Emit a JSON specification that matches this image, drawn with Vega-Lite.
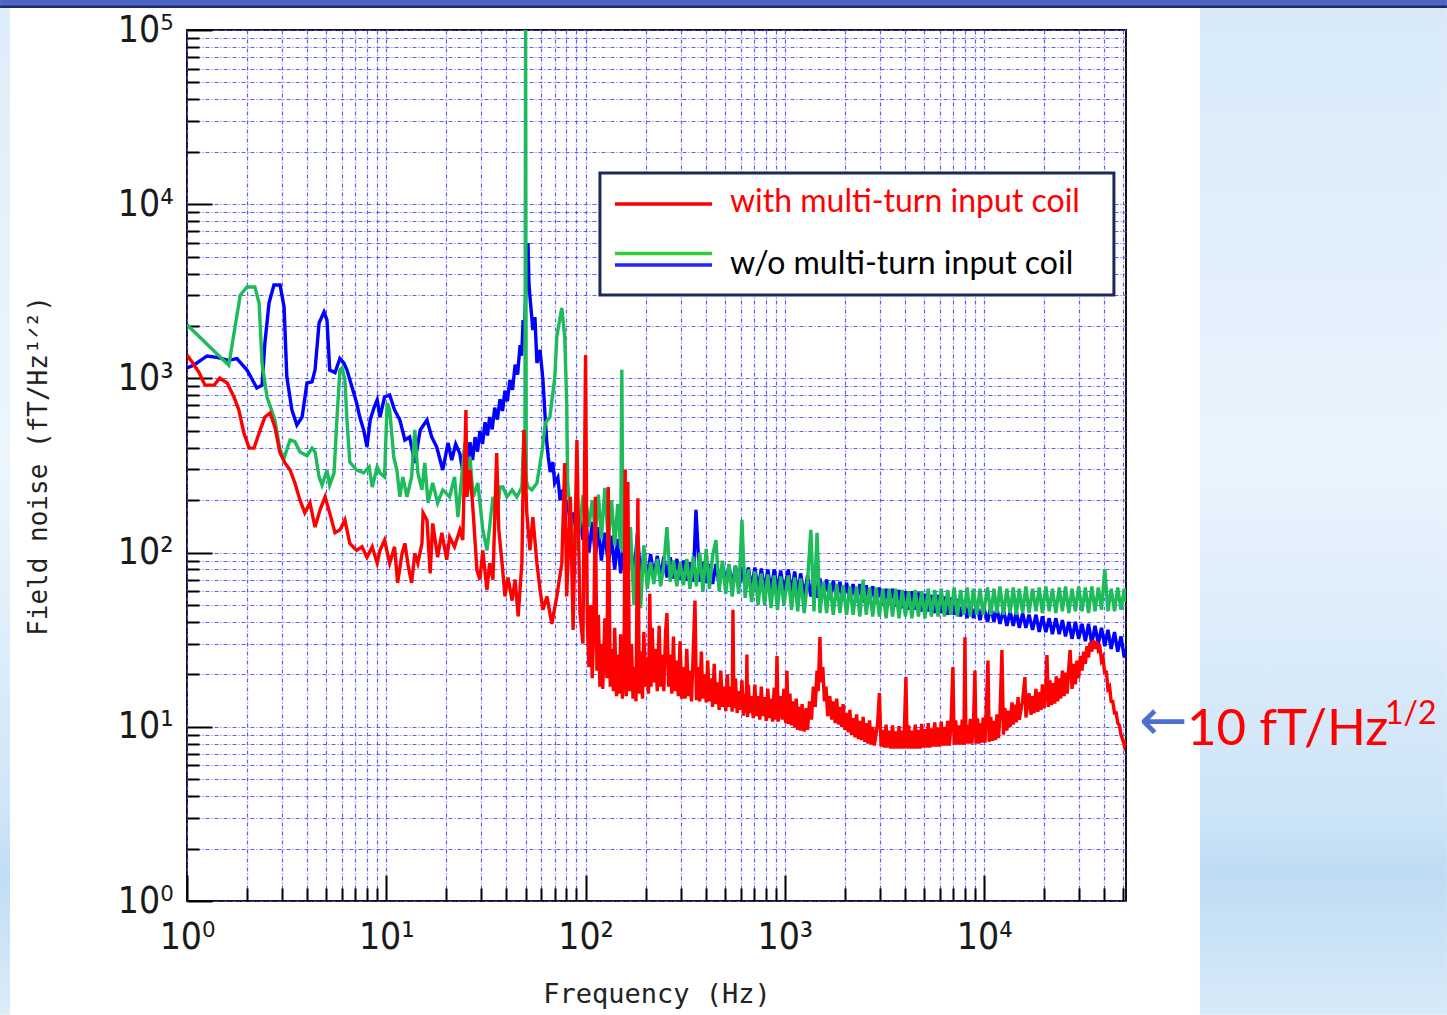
{
"$schema":"https://vega.github.io/schema/vega-lite/v6.json",
"width":939,"height":871,
"autosize":{"type":"none"},
"padding":{"left":187,"top":30,"right":321,"bottom":114},
"background":"#ffffff",
"config":{"view":{"stroke":"#151515","strokeWidth":2}},
"datasets":{
"blue":[{"f":1,"n":1150},{"f":1.08,"n":1190},{"f":1.26,"n":1345},{"f":1.41,"n":1320},{"f":1.62,"n":1270},{"f":1.78,"n":1300},{"f":2.0,"n":1117},{"f":2.24,"n":881},{"f":2.38,"n":915},{"f":2.46,"n":1597},{"f":2.58,"n":2710},{"f":2.73,"n":3436},{"f":2.93,"n":3436},{"f":3.07,"n":2570},{"f":3.17,"n":1018},{"f":3.36,"n":659},{"f":3.56,"n":540},{"f":3.78,"n":600},{"f":4.0,"n":941},{"f":4.24,"n":955},{"f":4.39,"n":1117},{"f":4.6,"n":2080},{"f":4.87,"n":2404},{"f":5.04,"n":2163},{"f":5.2,"n":1117},{"f":5.53,"n":1080},{"f":5.85,"n":1300},{"f":6.12,"n":1225},{"f":6.35,"n":1117},{"f":6.73,"n":893},{"f":7.1,"n":722},{"f":7.36,"n":600},{"f":7.7,"n":506},{"f":8.0,"n":404},{"f":8.3,"n":577},{"f":8.7,"n":685},{"f":9.0,"n":752},{"f":9.3,"n":600},{"f":9.8,"n":782},{"f":10.4,"n":803},{"f":11.0,"n":659},{"f":11.7,"n":577},{"f":12.4,"n":443},{"f":13.1,"n":461},{"f":13.9,"n":327},{"f":14.8,"n":506},{"f":16.0,"n":577},{"f":16.9,"n":461},{"f":17.9,"n":404},{"f":19.2,"n":298},{"f":20.4,"n":426},{"f":21.3,"n":340},{"f":22.3,"n":420},{"f":23.4,"n":370},{"f":24.1,"n":300},{"f":24.8,"n":400},{"f":25.5,"n":330},{"f":26.3,"n":430},{"f":27.1,"n":340},{"f":27.9,"n":460},{"f":28.7,"n":380},{"f":29.5,"n":500},{"f":30.4,"n":420},{"f":31.3,"n":560},{"f":32.2,"n":470},{"f":33.0,"n":600},{"f":34.0,"n":510},{"f":35.0,"n":680},{"f":36.1,"n":580},{"f":37.2,"n":760},{"f":38.3,"n":650},{"f":39.4,"n":850},{"f":40.5,"n":740},{"f":41.7,"n":980},{"f":43.0,"n":860},{"f":44.3,"n":1200},{"f":45.6,"n":1050},{"f":46.9,"n":1550},{"f":47.8,"n":1350},{"f":48.6,"n":2163},{"f":49.4,"n":2000},{"f":50.1,"n":3090},{"f":51.0,"n":4200},{"f":51.4,"n":5990},{"f":52.0,"n":3500},{"f":52.6,"n":2933},{"f":54.4,"n":1896},{"f":55.7,"n":2250},{"f":57.0,"n":1225},{"f":59.1,"n":1456},{"f":61.1,"n":979},{"f":62.8,"n":577},{"f":64,"n":420},{"f":65.0,"n":354},{"f":66.5,"n":290},{"f":68.5,"n":330},{"f":70,"n":250},{"f":72.6,"n":270},{"f":74.5,"n":200},{"f":76.9,"n":230},{"f":79,"n":170},{"f":81.3,"n":200},{"f":84,"n":140},{"f":86.6,"n":170},{"f":90,"n":130},{"f":93.7,"n":160},{"f":97,"n":118},
{"f":100,"n":155},{"f":104,"n":100},{"f":108,"n":150},{"f":112,"n":95},{"f":116,"n":140},{"f":120,"n":90},{"f":125,"n":130},{"f":130,"n":85},{"f":135,"n":125},{"f":140,"n":80},{"f":145,"n":120},{"f":150,"n":76},{"f":156,"n":115},{"f":162,"n":75},{"f":168,"n":112},{"f":175,"n":73},{"f":182,"n":130},{"f":189,"n":72},{"f":196,"n":100},{"f":204,"n":72},{"f":212,"n":98},{"f":220,"n":73},{"f":229,"n":96},{"f":238,"n":72},{"f":247,"n":95},{"f":256,"n":72},{"f":266,"n":94},{"f":276,"n":71},{"f":287,"n":92},{"f":298,"n":70},{"f":310,"n":90},{"f":322,"n":69},{"f":334,"n":88},{"f":347,"n":68},{"f":358,"n":176},{"f":374,"n":68},{"f":388,"n":88},{"f":403,"n":67},{"f":418,"n":86},{"f":434,"n":66},{"f":451,"n":86},{"f":468,"n":65},{"f":486,"n":85},{"f":505,"n":65},{"f":524,"n":84},{"f":544,"n":64},{"f":565,"n":84},{"f":587,"n":63},{"f":609,"n":83},{"f":632,"n":63},{"f":656,"n":82},{"f":681,"n":62},{"f":707,"n":82},{"f":734,"n":61},{"f":762,"n":81},{"f":791,"n":61},{"f":821,"n":80},{"f":852,"n":60},{"f":884,"n":80},{"f":918,"n":60},{"f":953,"n":79},{"f":989,"n":59},
{"f":1040,"n":80},{"f":1080,"n":58},{"f":1120,"n":78},{"f":1160,"n":57},{"f":1200,"n":76},{"f":1250,"n":56},{"f":1300,"n":74},{"f":1350,"n":56},{"f":1400,"n":72},{"f":1450,"n":55},{"f":1500,"n":71},{"f":1560,"n":55},{"f":1620,"n":70},{"f":1680,"n":54},{"f":1750,"n":69},{"f":1820,"n":54},{"f":1890,"n":68},{"f":1960,"n":53},{"f":2040,"n":67},{"f":2120,"n":53},{"f":2200,"n":66},{"f":2290,"n":52},{"f":2380,"n":66},{"f":2470,"n":52},{"f":2560,"n":65},{"f":2660,"n":51},{"f":2760,"n":64},{"f":2870,"n":51},{"f":2980,"n":63},{"f":3100,"n":50},{"f":3220,"n":62},{"f":3340,"n":50},{"f":3470,"n":62},{"f":3600,"n":49},{"f":3740,"n":61},{"f":3880,"n":48},{"f":4030,"n":60},{"f":4180,"n":47},{"f":4340,"n":60},{"f":4510,"n":47},{"f":4680,"n":59},{"f":4860,"n":46},{"f":5050,"n":58},{"f":5240,"n":46},{"f":5440,"n":57},{"f":5650,"n":45},{"f":5870,"n":57},{"f":6090,"n":45},{"f":6320,"n":56},{"f":6560,"n":44},{"f":6810,"n":55},{"f":7070,"n":44},{"f":7340,"n":54},{"f":7620,"n":43},{"f":7910,"n":53},{"f":8210,"n":42},{"f":8520,"n":52},{"f":8840,"n":42},{"f":9180,"n":51},{"f":9530,"n":41},{"f":9890,"n":50},
{"f":10400,"n":40},{"f":10800,"n":49},{"f":11200,"n":40},{"f":11600,"n":48},{"f":12000,"n":39},{"f":12500,"n":47},{"f":13000,"n":38},{"f":13500,"n":46},{"f":14000,"n":38},{"f":14500,"n":46},{"f":15000,"n":37},{"f":15600,"n":45},{"f":16200,"n":37},{"f":16800,"n":44},{"f":17500,"n":36},{"f":18200,"n":44},{"f":18900,"n":35},{"f":19600,"n":43},{"f":20400,"n":35},{"f":21200,"n":42},{"f":22000,"n":34},{"f":22900,"n":42},{"f":23800,"n":34},{"f":24700,"n":41},{"f":25600,"n":33},{"f":26600,"n":40},{"f":27600,"n":32},{"f":28700,"n":40},{"f":29800,"n":32},{"f":31000,"n":39},{"f":32200,"n":31},{"f":33400,"n":39},{"f":34700,"n":30},{"f":36000,"n":38},{"f":37400,"n":30},{"f":38800,"n":37},{"f":40300,"n":29},{"f":41800,"n":36},{"f":43400,"n":28},{"f":45100,"n":35},{"f":46800,"n":27},{"f":48600,"n":33},{"f":50500,"n":25},{"f":51500,"n":28}],
"green":[{"f":1,"n":2030},{"f":1.62,"n":1190},{"f":1.85,"n":3000},{"f":2.0,"n":3350},{"f":2.19,"n":3350},{"f":2.3,"n":2710},{"f":2.38,"n":1230},{"f":2.52,"n":780},{"f":2.76,"n":577},{"f":2.93,"n":388},{"f":3.07,"n":349},{"f":3.29,"n":443},{"f":3.48,"n":433},{"f":3.69,"n":378},{"f":4.0,"n":360},{"f":4.24,"n":398},{"f":4.39,"n":378},{"f":4.6,"n":272},{"f":4.76,"n":244},{"f":5.04,"n":298},{"f":5.2,"n":244},{"f":5.47,"n":287},{"f":5.66,"n":600},{"f":5.85,"n":1117},{"f":6.0,"n":1150},{"f":6.2,"n":979},{"f":6.35,"n":577},{"f":6.56,"n":331},{"f":7.1,"n":298},{"f":7.7,"n":287},{"f":8.2,"n":310},{"f":8.5,"n":238},{"f":9.0,"n":310},{"f":9.3,"n":287},{"f":9.8,"n":272},{"f":10.1,"n":722},{"f":10.4,"n":659},{"f":10.9,"n":354},{"f":11.3,"n":298},{"f":11.7,"n":209},{"f":12.1,"n":272},{"f":12.7,"n":209},{"f":13.4,"n":272},{"f":13.9,"n":506},{"f":14.4,"n":287},{"f":15.1,"n":229},{"f":15.6,"n":327},{"f":16.2,"n":193},{"f":17.1,"n":251},{"f":18.1,"n":193},{"f":19.2,"n":229},{"f":20.8,"n":209},{"f":22.0,"n":272},{"f":22.9,"n":160},{"f":24.0,"n":287},{"f":24.8,"n":426},{"f":25.4,"n":229},{"f":26.3,"n":354},{"f":27.3,"n":209},{"f":28.8,"n":251},{"f":30.5,"n":135},{"f":32.0,"n":103},{"f":33.0,"n":140},{"f":34.3,"n":209},{"f":35.8,"n":154},{"f":37.2,"n":238},{"f":38.5,"n":238},{"f":40.3,"n":209},{"f":42.8,"n":229},{"f":45.2,"n":209},{"f":47.9,"n":238},{"f":49.1,"n":506},{"f":49.6,"n":300},{"f":50.0,"n":100000},{"f":50.4,"n":260},{"f":51.4,"n":238},{"f":53.8,"n":229},{"f":57.0,"n":251},{"f":60.6,"n":388},{"f":62.8,"n":555},{"f":66.2,"n":600},{"f":70.1,"n":1018},{"f":71.7,"n":1728},{"f":74.1,"n":2163},{"f":76.0,"n":2537},{"f":78.6,"n":1728},{"f":80.4,"n":722},{"f":81.3,"n":251},{"f":85.3,"n":135},{"f":90.5,"n":103},{"f":93.7,"n":147},{"f":96.9,"n":209},
{"f":100,"n":205},{"f":104,"n":140},{"f":108,"n":200},{"f":112,"n":130},{"f":116,"n":215},{"f":120,"n":120},{"f":125,"n":235},{"f":130,"n":115},{"f":135,"n":200},{"f":140,"n":110},{"f":145,"n":190},{"f":150,"n":105},{"f":152,"n":1120},{"f":154,"n":100},{"f":156,"n":170},{"f":162,"n":60},{"f":168,"n":140},{"f":175,"n":50},{"f":182,"n":125},{"f":189,"n":48},{"f":196,"n":110},{"f":204,"n":62},{"f":212,"n":88},{"f":220,"n":66},{"f":229,"n":92},{"f":238,"n":64},{"f":247,"n":85},{"f":256,"n":140},{"f":266,"n":68},{"f":276,"n":90},{"f":287,"n":64},{"f":298,"n":88},{"f":310,"n":65},{"f":322,"n":92},{"f":334,"n":62},{"f":347,"n":95},{"f":360,"n":64},{"f":374,"n":100},{"f":388,"n":60},{"f":403,"n":105},{"f":418,"n":62},{"f":434,"n":96},{"f":451,"n":118},{"f":468,"n":60},{"f":486,"n":90},{"f":505,"n":58},{"f":524,"n":86},{"f":544,"n":56},{"f":565,"n":84},{"f":587,"n":58},{"f":609,"n":154},{"f":632,"n":55},{"f":656,"n":80},{"f":681,"n":52},{"f":707,"n":78},{"f":734,"n":50},{"f":762,"n":76},{"f":791,"n":50},{"f":821,"n":75},{"f":852,"n":48},{"f":884,"n":74},{"f":918,"n":47},{"f":953,"n":73},{"f":989,"n":50},
{"f":1040,"n":74},{"f":1080,"n":47},{"f":1120,"n":72},{"f":1160,"n":46},{"f":1200,"n":71},{"f":1250,"n":45},{"f":1300,"n":69},{"f":1350,"n":135},{"f":1400,"n":46},{"f":1450,"n":130},{"f":1500,"n":45},{"f":1560,"n":68},{"f":1620,"n":45},{"f":1680,"n":67},{"f":1750,"n":44},{"f":1820,"n":66},{"f":1890,"n":45},{"f":1960,"n":65},{"f":2040,"n":44},{"f":2120,"n":64},{"f":2200,"n":44},{"f":2290,"n":64},{"f":2380,"n":43},{"f":2470,"n":70},{"f":2560,"n":44},{"f":2660,"n":63},{"f":2760,"n":43},{"f":2870,"n":63},{"f":2980,"n":43},{"f":3100,"n":62},{"f":3220,"n":42},{"f":3340,"n":62},{"f":3470,"n":43},{"f":3600,"n":62},{"f":3740,"n":42},{"f":3880,"n":61},{"f":4030,"n":43},{"f":4180,"n":60},{"f":4340,"n":42},{"f":4510,"n":61},{"f":4680,"n":43},{"f":4860,"n":60},{"f":5050,"n":42},{"f":5240,"n":62},{"f":5440,"n":43},{"f":5650,"n":61},{"f":5870,"n":43},{"f":6090,"n":62},{"f":6320,"n":43},{"f":6560,"n":61},{"f":6810,"n":44},{"f":7070,"n":63},{"f":7340,"n":43},{"f":7620,"n":61},{"f":7910,"n":44},{"f":8210,"n":63},{"f":8520,"n":43},{"f":8840,"n":62},{"f":9180,"n":44},{"f":9530,"n":62},{"f":9890,"n":44},
{"f":10400,"n":63},{"f":10800,"n":44},{"f":11200,"n":62},{"f":11600,"n":45},{"f":12000,"n":64},{"f":12500,"n":44},{"f":13000,"n":62},{"f":13500,"n":45},{"f":14000,"n":63},{"f":14500,"n":44},{"f":15000,"n":62},{"f":15600,"n":45},{"f":16200,"n":64},{"f":16800,"n":45},{"f":17500,"n":62},{"f":18200,"n":46},{"f":18900,"n":63},{"f":19600,"n":45},{"f":20400,"n":64},{"f":21200,"n":46},{"f":22000,"n":62},{"f":22900,"n":45},{"f":23800,"n":63},{"f":24700,"n":46},{"f":25600,"n":64},{"f":26600,"n":45},{"f":27600,"n":62},{"f":28700,"n":46},{"f":29800,"n":64},{"f":31000,"n":46},{"f":32200,"n":63},{"f":33400,"n":45},{"f":34700,"n":64},{"f":36000,"n":46},{"f":37400,"n":63},{"f":38800,"n":47},{"f":40300,"n":80},{"f":41800,"n":46},{"f":43400,"n":62},{"f":45100,"n":46},{"f":46800,"n":63},{"f":48600,"n":47},{"f":50500,"n":62},{"f":51500,"n":52}],
"red":[{"f":1,"n":1362},{"f":1.06,"n":1243},{"f":1.15,"n":1080},{"f":1.23,"n":915},{"f":1.37,"n":915},{"f":1.46,"n":1005},{"f":1.59,"n":941},{"f":1.72,"n":782},{"f":1.82,"n":659},{"f":1.93,"n":486},{"f":2.05,"n":398},{"f":2.17,"n":398},{"f":2.3,"n":486},{"f":2.46,"n":600},{"f":2.61,"n":633},{"f":2.76,"n":526},{"f":2.93,"n":373},{"f":3.1,"n":327},{"f":3.29,"n":298},{"f":3.48,"n":251},{"f":3.69,"n":200},{"f":3.9,"n":169},{"f":4.14,"n":193},{"f":4.39,"n":140},{"f":4.65,"n":176},{"f":4.93,"n":209},{"f":5.2,"n":169},{"f":5.53,"n":130},{"f":5.85,"n":135},{"f":6.2,"n":154},{"f":6.56,"n":113},{"f":7.1,"n":103},{"f":7.55,"n":108},{"f":8.0,"n":94},{"f":8.5,"n":108},{"f":9.0,"n":87},{"f":9.3,"n":103},{"f":9.8,"n":118},{"f":10.4,"n":87},{"f":11.0,"n":108},{"f":11.4,"n":67},{"f":12.0,"n":99},{"f":12.4,"n":113},{"f":12.9,"n":83},{"f":13.4,"n":67},{"f":13.9,"n":99},{"f":14.4,"n":87},{"f":15.1,"n":113},{"f":15.3,"n":169},{"f":16.0,"n":154},{"f":16.6,"n":76},{"f":17.1,"n":147},{"f":18.1,"n":94},{"f":19.0,"n":130},{"f":20.1,"n":91},{"f":20.8,"n":123},{"f":22.0,"n":108},{"f":23.4,"n":135},{"f":24.2,"n":118},{"f":25.1,"n":659},{"f":25.4,"n":209},{"f":26.3,"n":298},{"f":27.3,"n":169},{"f":28.5,"n":79},{"f":29.5,"n":70},{"f":30.5,"n":103},{"f":32,"n":61},{"f":33,"n":87},{"f":34.3,"n":70},{"f":35.8,"n":373},{"f":36.7,"n":135},{"f":38.1,"n":87},{"f":39.4,"n":56},{"f":40.8,"n":72},{"f":42.8,"n":53},{"f":44.3,"n":70},{"f":45.9,"n":43},{"f":47.9,"n":87},{"f":49.1,"n":506},{"f":50.7,"n":169},{"f":52.6,"n":103},{"f":54.4,"n":160},{"f":57.0,"n":87},{"f":59.1,"n":61},{"f":61.1,"n":47},{"f":64,"n":56},{"f":67.7,"n":39},{"f":71.7,"n":56},{"f":76.0,"n":87},{"f":78.6,"n":327},{"f":80.4,"n":56},{"f":83.9,"n":209},{"f":86.6,"n":36},{"f":90.5,"n":443},{"f":93.7,"n":45},{"f":97,"n":30},{"f":100,"n":1362},
{"f":102,"n":40},{"f":104,"n":22},{"f":106,"n":50},{"f":108,"n":19},{"f":110,"n":38},{"f":112,"n":209},{"f":114,"n":21},{"f":116,"n":44},{"f":118,"n":17},{"f":120,"n":30},{"f":122,"n":16.5},{"f":125,"n":42},{"f":128,"n":19},{"f":130,"n":238},{"f":133,"n":17},{"f":135,"n":28},{"f":138,"n":16},{"f":140,"n":37},{"f":143,"n":15},{"f":145,"n":26},{"f":148,"n":15.5},{"f":150,"n":34},{"f":153,"n":14.5},{"f":156,"n":24},{"f":158,"n":300},{"f":160,"n":15},{"f":163,"n":254},{"f":166,"n":16},{"f":170,"n":30},{"f":173,"n":14.5},{"f":176,"n":22},{"f":179,"n":14},{"f":183,"n":205},{"f":186,"n":15.5},{"f":189,"n":27},{"f":193,"n":14.5},{"f":196,"n":35},{"f":200,"n":17},{"f":204,"n":25},{"f":207,"n":15.5},{"f":210,"n":58},{"f":213,"n":17},{"f":216,"n":37},{"f":220,"n":18},{"f":224,"n":28},{"f":229,"n":16},{"f":234,"n":38},{"f":238,"n":17},{"f":243,"n":26},{"f":247,"n":16},{"f":252,"n":35},{"f":256,"n":45},{"f":261,"n":17},{"f":266,"n":26},{"f":271,"n":15.5},{"f":276,"n":33},{"f":281,"n":16},{"f":287,"n":24},{"f":292,"n":15},{"f":298,"n":31},{"f":304,"n":14.5},{"f":310,"n":22},{"f":316,"n":14.5},{"f":322,"n":28},{"f":328,"n":15},{"f":334,"n":21},{"f":340,"n":14},{"f":347,"n":27},{"f":354,"n":53},{"f":360,"n":14.2},{"f":367,"n":22},{"f":374,"n":14},{"f":381,"n":27},{"f":388,"n":14.5},{"f":395,"n":20},{"f":403,"n":13.8},{"f":410,"n":24},{"f":418,"n":14},{"f":426,"n":19},{"f":434,"n":13},{"f":442,"n":23},{"f":451,"n":13.5},{"f":459,"n":18},{"f":468,"n":12.5},{"f":477,"n":21},{"f":486,"n":13},{"f":495,"n":17},{"f":505,"n":12.3},{"f":514,"n":20},{"f":524,"n":13},{"f":534,"n":17},{"f":544,"n":12.2},{"f":549,"n":47},{"f":555,"n":12.8},{"f":565,"n":19},{"f":576,"n":12},{"f":587,"n":16},{"f":598,"n":12.5},{"f":609,"n":18.5},{"f":620,"n":11.6},{"f":632,"n":15.5},{"f":640,"n":12},{"f":645,"n":26},{"f":650,"n":11.4},{"f":656,"n":17.4},{"f":668,"n":12},{"f":681,"n":15},{"f":694,"n":11.2},{"f":707,"n":17.5},{"f":720,"n":11.5},{"f":734,"n":15},{"f":748,"n":11},{"f":762,"n":17},{"f":776,"n":11.5},{"f":791,"n":14.8},{"f":806,"n":10.8},{"f":821,"n":16.5},{"f":836,"n":11.2},{"f":852,"n":14.5},{"f":868,"n":10.7},{"f":884,"n":16.8},{"f":900,"n":11},{"f":913,"n":25.5},{"f":925,"n":10.7},{"f":953,"n":15},{"f":970,"n":11},{"f":989,"n":16.5},{"f":1010,"n":10.5},{"f":1024,"n":21},{"f":1040,"n":10.4},{"f":1060,"n":15.5},{"f":1080,"n":10.2},{"f":1100,"n":14},{"f":1120,"n":9.9},{"f":1140,"n":14.5},{"f":1160,"n":9.6},{"f":1180,"n":13},{"f":1200,"n":9.5},{"f":1220,"n":13.5},{"f":1250,"n":9.4},{"f":1280,"n":12.8},{"f":1300,"n":9.6},{"f":1330,"n":14},{"f":1360,"n":11},{"f":1390,"n":17},{"f":1420,"n":13},{"f":1450,"n":21},{"f":1470,"n":16},{"f":1500,"n":32.7},{"f":1520,"n":18},{"f":1550,"n":22},{"f":1580,"n":14},{"f":1610,"n":17},{"f":1640,"n":11.5},{"f":1680,"n":15},{"f":1720,"n":11},{"f":1750,"n":14},{"f":1790,"n":10.5},{"f":1820,"n":14.5},{"f":1860,"n":10.3},{"f":1890,"n":13},{"f":1930,"n":10},{"f":1960,"n":13.5},{"f":2000,"n":9.6},{"f":2040,"n":12},{"f":2080,"n":9.3},{"f":2120,"n":12.5},{"f":2160,"n":9},{"f":2200,"n":11.2},{"f":2250,"n":8.7},{"f":2290,"n":11.8},{"f":2340,"n":8.5},{"f":2380,"n":10.8},{"f":2430,"n":8.4},{"f":2470,"n":11.4},{"f":2520,"n":8.2},{"f":2560,"n":10.5},{"f":2610,"n":8},{"f":2660,"n":10.9},{"f":2710,"n":7.9},{"f":2760,"n":10},{"f":2810,"n":7.8},{"f":2920,"n":10.4},{"f":2980,"n":15.6},{"f":3040,"n":7.7},{"f":3100,"n":9.6},{"f":3160,"n":7.6},{"f":3220,"n":10.3},{"f":3280,"n":7.6},{"f":3340,"n":9.5},{"f":3400,"n":7.5},{"f":3470,"n":10.2},{"f":3530,"n":7.5},{"f":3600,"n":9.4},{"f":3670,"n":7.5},{"f":3740,"n":10.1},{"f":3810,"n":7.5},{"f":3880,"n":9.5},{"f":3950,"n":7.5},{"f":4050,"n":19.3},{"f":4110,"n":7.5},{"f":4180,"n":10.2},{"f":4260,"n":7.5},{"f":4340,"n":9.5},{"f":4420,"n":7.5},{"f":4510,"n":10.3},{"f":4600,"n":7.5},{"f":4680,"n":9.6},{"f":4770,"n":7.5},{"f":4860,"n":10.4},{"f":4950,"n":7.6},{"f":5050,"n":9.7},{"f":5140,"n":7.6},{"f":5240,"n":10.5},{"f":5340,"n":7.6},{"f":5440,"n":9.8},{"f":5540,"n":7.7},{"f":5650,"n":10.6},{"f":5760,"n":7.7},{"f":5870,"n":9.9},{"f":5980,"n":7.7},{"f":6090,"n":10.7},{"f":6200,"n":7.8},{"f":6320,"n":10},{"f":6440,"n":7.8},{"f":6560,"n":10.8},{"f":6690,"n":7.8},{"f":6810,"n":10.1},{"f":6970,"n":22},{"f":7070,"n":7.9},{"f":7200,"n":10.9},{"f":7340,"n":7.9},{"f":7480,"n":10.2},{"f":7620,"n":7.9},{"f":7760,"n":11},{"f":7910,"n":7.9},{"f":8010,"n":32.7},{"f":8100,"n":8},{"f":8210,"n":10.3},{"f":8360,"n":8},{"f":8520,"n":11.1},{"f":8680,"n":8},{"f":8840,"n":10.4},{"f":8990,"n":21},{"f":9100,"n":8},{"f":9260,"n":11.2},{"f":9420,"n":8},{"f":9530,"n":10.5},{"f":9700,"n":8.1},{"f":9890,"n":11.3},{"f":10100,"n":8.1},{"f":10200,"n":10.6},{"f":10450,"n":24},{"f":10600,"n":8.2},{"f":10800,"n":11.4},{"f":11000,"n":8.3},{"f":11200,"n":10.8},{"f":11400,"n":8.4},{"f":11600,"n":11.8},{"f":11800,"n":8.6},{"f":12000,"n":11.5},{"f":12280,"n":27.6},{"f":12500,"n":9},{"f":12700,"n":12.8},{"f":13000,"n":9.5},{"f":13200,"n":12.4},{"f":13500,"n":10},{"f":13800,"n":13.8},{"f":14000,"n":10.3},{"f":14300,"n":13.4},{"f":14500,"n":10.6},{"f":14800,"n":14.8},{"f":15000,"n":11},{"f":15600,"n":14.2},{"f":16020,"n":19.3},{"f":16200,"n":11.3},{"f":16800,"n":15.6},{"f":17200,"n":11.7},{"f":17500,"n":15},{"f":17800,"n":12},{"f":18200,"n":16.5},{"f":18600,"n":12.2},{"f":18900,"n":15.8},{"f":19300,"n":12.5},{"f":19600,"n":17.5},{"f":20000,"n":12.8},{"f":20400,"n":16.8},{"f":20660,"n":25.8},{"f":21000,"n":13},{"f":21400,"n":18.5},{"f":21800,"n":13.3},{"f":22200,"n":17.8},{"f":22600,"n":13.6},{"f":23000,"n":19.5},{"f":23400,"n":14},{"f":23800,"n":19},{"f":24200,"n":14.5},{"f":24700,"n":21},{"f":25200,"n":15},{"f":25600,"n":20.5},{"f":26100,"n":15.5},{"f":26600,"n":22},{"f":27000,"n":27.6},{"f":27600,"n":16.5},{"f":28200,"n":23},{"f":28700,"n":17.5},{"f":29200,"n":24},{"f":29800,"n":19},{"f":30400,"n":25.5},{"f":31000,"n":21},{"f":31600,"n":27},{"f":32200,"n":23},{"f":32800,"n":29},{"f":33400,"n":25},{"f":34000,"n":30.5},{"f":34700,"n":27},{"f":35300,"n":31.5},{"f":36000,"n":28},{"f":36700,"n":31},{"f":37400,"n":27.6},{"f":38100,"n":28.5},{"f":38800,"n":24},{"f":39500,"n":25},{"f":40300,"n":20},{"f":41000,"n":21},{"f":41800,"n":16.5},{"f":42600,"n":17},{"f":43400,"n":14},{"f":44200,"n":14},{"f":45100,"n":12},{"f":46000,"n":12},{"f":46800,"n":10.5},{"f":47700,"n":10.2},{"f":48600,"n":9},{"f":49500,"n":8.5},{"f":50500,"n":7.8},{"f":51500,"n":8.4}]
},
"layer":[
{"data":{"values":[{}]},"mark":{"type":"rect","clip":false,"fill":{"gradient":"linear","x1":0,"y1":0,"x2":0,"y2":1,"stops":[{"offset":0,"color":"#deedfa"},{"offset":0.45,"color":"#edf6fd"},{"offset":0.8,"color":"#cfe5f7"},{"offset":0.86,"color":"#c0ddf4"},{"offset":1,"color":"#dbecf9"}]}},
 "encoding":{"x":{"datum":0.1153,"type":"quantitative","scale":{"type":"log","domain":[1,51500],"nice":false},"axis":null},"x2":{"datum":0.1294},"y":{"datum":133800,"type":"quantitative","scale":{"type":"log","domain":[1,100000],"nice":false},"axis":null},"y2":{"datum":0.222}}},
{"data":{"values":[{}]},"mark":{"type":"rect","clip":false,"fill":{"gradient":"linear","x1":0,"y1":0,"x2":0,"y2":1,"stops":[{"offset":0,"color":"#d8eaf9"},{"offset":0.45,"color":"#eaf4fd"},{"offset":0.8,"color":"#cde4f7"},{"offset":0.86,"color":"#bfdcf4"},{"offset":1,"color":"#d8eaf9"}]}},
 "encoding":{"x":{"datum":121000,"type":"quantitative","scale":{"type":"log","domain":[1,51500],"nice":false},"axis":null},"x2":{"datum":2100000},"y":{"datum":133800,"type":"quantitative","scale":{"type":"log","domain":[1,100000],"nice":false},"axis":null},"y2":{"datum":0.222}}},
{"data":{"values":[{}]},"mark":{"type":"rect","clip":false,"fill":"#4d66c6"},
 "encoding":{"x":{"datum":0.1153,"type":"quantitative","scale":{"type":"log","domain":[1,51500],"nice":false},"axis":null},"x2":{"datum":2100000},"y":{"datum":148700,"type":"quantitative","scale":{"type":"log","domain":[1,100000],"nice":false},"axis":null},"y2":{"datum":133800}}},
{"data":{"values":[{}]},"mark":{"type":"rect","clip":false,"fill":"#1e2c6a"},
 "encoding":{"x":{"datum":0.1153,"type":"quantitative","scale":{"type":"log","domain":[1,51500],"nice":false},"axis":null},"x2":{"datum":2100000},"y":{"datum":138200,"type":"quantitative","scale":{"type":"log","domain":[1,100000],"nice":false},"axis":null},"y2":{"datum":133800}}},
{"data":{"name":"blue"},"mark":{"type":"line","color":"#0000ff","strokeWidth":3.4,"clip":true},
 "encoding":{
  "x":{"field":"f","type":"quantitative","scale":{"type":"log","domain":[1,51500],"nice":false},
   "axis":{"orient":"bottom","values":[1,10,100,1000,10000],"labelExpr":"'10' + ['⁰','¹','²','³','⁴','⁵'][round(log(datum.value)/LN10)]","ticks":false,"domain":false,"grid":false,"labelFont":"Liberation Sans Narrow, DejaVu Sans Condensed, Liberation Sans, sans-serif","labelFontSize":37,"labelColor":"#1a1a1a","labelPadding":18,"labelFlush":false,"labelOverlap":false,"labelBaseline":"top","title":"Frequency (Hz)","titleFont":"DejaVu Sans Mono","titleFontSize":27,"titleFontWeight":"normal","titleColor":"#222222","titlePadding":26}},
  "y":{"field":"n","type":"quantitative","scale":{"type":"log","domain":[1,100000],"nice":false},
   "axis":{"orient":"left","values":[1,10,100,1000,10000,100000],"labelExpr":"'10' + ['⁰','¹','²','³','⁴','⁵'][round(log(datum.value)/LN10)]","ticks":false,"domain":false,"grid":false,"labelFont":"Liberation Sans Narrow, DejaVu Sans Condensed, Liberation Sans, sans-serif","labelFontSize":37,"labelColor":"#1a1a1a","labelPadding":14,"labelOverlap":false,"labelBaseline":"middle","labelAlign":"right","title":"Field noise (fT/Hz¹ᐟ²)","titleFont":"DejaVu Sans Mono","titleFontSize":26,"titleFontWeight":"normal","titleColor":"#222222","titlePadding":66}}}},
{"data":{"name":"green"},"mark":{"type":"line","color":"#1dbb5a","strokeWidth":3.4,"clip":true},
 "encoding":{
  "x":{"field":"f","type":"quantitative","scale":{"type":"log","domain":[1,51500],"nice":false},
   "axis":{"orient":"bottom","values":[1,2,3,4,5,6,7,8,9,10,20,30,40,50,60,70,80,90,100,200,300,400,500,600,700,800,900,1000,2000,3000,4000,5000,6000,7000,8000,9000,10000,20000,30000,40000,50000],"labels":false,"domain":false,"grid":true,"gridColor":"#4d4dff","gridDash":[4,2,1,2],"gridWidth":1.2,"gridOpacity":0.9,"ticks":true,"tickColor":"#000000","tickWidth":2,"tickSize":{"condition":{"test":"indexof([1,10,100,1000,10000,100000], datum.value) >= 0","value":-26},"value":-13},"title":null}},
  "y":{"field":"n","type":"quantitative","scale":{"type":"log","domain":[1,100000],"nice":false},
   "axis":{"orient":"left","values":[1,2,3,4,5,6,7,8,9,10,20,30,40,50,60,70,80,90,100,200,300,400,500,600,700,800,900,1000,2000,3000,4000,5000,6000,7000,8000,9000,10000,20000,30000,40000,50000,60000,70000,80000,90000,100000],"labels":false,"domain":false,"grid":true,"gridColor":"#4d4dff","gridDash":[4,2,1,2],"gridWidth":1.2,"gridOpacity":0.9,"ticks":true,"tickColor":"#000000","tickWidth":2,"tickSize":{"condition":{"test":"indexof([1,10,100,1000,10000,100000], datum.value) >= 0","value":-25},"value":-12},"title":null}}}},
{"data":{"name":"red"},"mark":{"type":"line","color":"#ff0000","strokeWidth":3.4,"clip":true},
 "encoding":{
  "x":{"field":"f","type":"quantitative","scale":{"type":"log","domain":[1,51500],"nice":false},"axis":null},
  "y":{"field":"n","type":"quantitative","scale":{"type":"log","domain":[1,100000],"nice":false},"axis":null}}},
{"data":{"values":[{}]},"mark":{"type":"rect","clip":false,"fill":"#ffffff","stroke":"#1c2a5a","strokeWidth":3},
 "encoding":{"x":{"datum":118.1,"type":"quantitative","scale":{"type":"log","domain":[1,51500],"nice":false},"axis":null},"x2":{"datum":44790},"y":{"datum":15110,"type":"quantitative","scale":{"type":"log","domain":[1,100000],"nice":false},"axis":null},"y2":{"datum":3013}}},
{"data":{"values":[{}]},"mark":{"type":"rule","color":"#ff0000","strokeWidth":3.5},
 "encoding":{"x":{"datum":140.4,"type":"quantitative","scale":{"type":"log","domain":[1,51500],"nice":false},"axis":null},"x2":{"datum":431},"y":{"datum":10028,"type":"quantitative","scale":{"type":"log","domain":[1,100000],"nice":false},"axis":null}}},
{"data":{"values":[{}]},"mark":{"type":"rule","color":"#33cc33","strokeWidth":3.5},
 "encoding":{"x":{"datum":140.4,"type":"quantitative","scale":{"type":"log","domain":[1,51500],"nice":false},"axis":null},"x2":{"datum":431},"y":{"datum":5212,"type":"quantitative","scale":{"type":"log","domain":[1,100000],"nice":false},"axis":null}}},
{"data":{"values":[{}]},"mark":{"type":"rule","color":"#2222ff","strokeWidth":3.5},
 "encoding":{"x":{"datum":140.4,"type":"quantitative","scale":{"type":"log","domain":[1,51500],"nice":false},"axis":null},"x2":{"datum":431},"y":{"datum":4478,"type":"quantitative","scale":{"type":"log","domain":[1,100000],"nice":false},"axis":null}}},
{"data":{"values":[{}]},"mark":{"type":"text","text":"with multi-turn input coil","font":"Lato","fontSize":32,"color":"#ff0000","align":"left","baseline":"alphabetic"},
 "encoding":{"x":{"datum":530,"type":"quantitative","scale":{"type":"log","domain":[1,51500],"nice":false},"axis":null},"y":{"datum":9020,"type":"quantitative","scale":{"type":"log","domain":[1,100000],"nice":false},"axis":null}}},
{"data":{"values":[{}]},"mark":{"type":"text","text":"w/o multi-turn input coil","font":"Lato","fontSize":32,"color":"#000000","align":"left","baseline":"alphabetic"},
 "encoding":{"x":{"datum":530,"type":"quantitative","scale":{"type":"log","domain":[1,51500],"nice":false},"axis":null},"y":{"datum":3976,"type":"quantitative","scale":{"type":"log","domain":[1,100000],"nice":false},"axis":null}}},
{"data":{"values":[{}]},"mark":{"type":"text","text":"←","font":"DejaVu Sans","fontSize":58,"color":"#4f6fd0","align":"left","baseline":"middle","clip":false},
 "encoding":{"x":{"datum":59800,"type":"quantitative","scale":{"type":"log","domain":[1,51500],"nice":false},"axis":null},"y":{"datum":10.5,"type":"quantitative","scale":{"type":"log","domain":[1,100000],"nice":false},"axis":null}}},
{"data":{"values":[{}]},"mark":{"type":"text","text":"10 fT/Hz","font":"Lato","fontSize":51,"color":"#ff0000","align":"left","baseline":"alphabetic","clip":false},
 "encoding":{"x":{"datum":104100,"type":"quantitative","scale":{"type":"log","domain":[1,51500],"nice":false},"axis":null},"y":{"datum":7.86,"type":"quantitative","scale":{"type":"log","domain":[1,100000],"nice":false},"axis":null}}},
{"data":{"values":[{}]},"mark":{"type":"text","text":"1/2","font":"Lato","fontSize":32,"color":"#ff0000","align":"left","baseline":"alphabetic","clip":false},
 "encoding":{"x":{"datum":1026000,"type":"quantitative","scale":{"type":"log","domain":[1,51500],"nice":false},"axis":null},"y":{"datum":10.38,"type":"quantitative","scale":{"type":"log","domain":[1,100000],"nice":false},"axis":null}}}
],
"resolve":{"axis":{"x":"independent","y":"independent"}}
}
